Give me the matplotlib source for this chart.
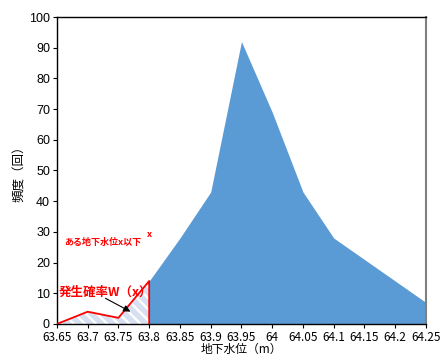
import numpy as np
import matplotlib
matplotlib.use("Agg")
import matplotlib.pyplot as plt

# 地下水位ごとの頻度
levels = ["63.65", "63.7", "63.75", "63.8", "63.85", "63.9", "63.95",
          "64", "64.05", "64.1", "64.15", "64.2", "64.25"]
freq = [0, 4, 2, 14, 28, 43, 92, 69, 43, 28, 21, 14, 7]
split_idx = 3  # 63.8 までが「x以下」

jp = ["Noto Sans CJK JP", "DejaVu Sans"]
plt.rcParams["hatch.color"] = "#d6e0f0"
plt.rcParams["hatch.linewidth"] = 4.0

x = np.arange(len(levels))
y = np.array(freq)

fig = plt.figure(figsize=(4.41, 3.58), dpi=100)
ax = fig.add_axes([0.129, 0.095, 0.837, 0.8575])

# x以下の部分（斜線）
xl, yl = x[:split_idx + 1], y[:split_idx + 1]
ax.fill_between(xl, 0, yl, facecolor="white", hatch="\\\\\\", linewidth=0)
ax.plot(np.r_[xl, xl[-1]], np.r_[yl, 0], color="red", lw=1.3, zorder=3)

# 残りの部分
ax.fill_between(x[split_idx:], 0, y[split_idx:], color="#5b9bd5", linewidth=0)

ax.set_xlim(0, len(levels) - 1)
ax.set_ylim(0, 100)
ax.set_xticks(x)
ax.set_xticklabels(levels, family=jp, fontsize=8.5)
ax.set_yticks(range(0, 101, 10))
ax.set_yticklabels([str(v) for v in range(0, 101, 10)],
                   family="Liberation Sans", fontsize=9)
ax.tick_params(length=3, width=0.8, pad=2)

for s in ["left", "bottom", "top"]:
    ax.spines[s].set_color("black")
    ax.spines[s].set_linewidth(1)
ax.spines["right"].set_color("#808080")
ax.spines["right"].set_linewidth(1.5)

ax.set_ylabel("頻度（回）", family=jp, fontsize=9, labelpad=2)
ax.set_xlabel("地下水位（m）", family=jp, fontsize=8.5, labelpad=-1)

ax.text(0.05, 10.4, "発生確率W（x）", family=jp, fontsize=9, color="red",
        fontweight="bold", va="center", ha="left")
ax.annotate("", xy=(2.47, 3.6), xytext=(1.5, 8.8),
            arrowprops=dict(arrowstyle="-|>", color="black", lw=0.8,
                            mutation_scale=10))
ax.text(0.23, 26.4, "ある地下水位x以下", family=jp, fontsize=6.5,
        color="red", fontweight="bold", va="center", ha="left")
ax.text(3.0, 29.2, "x", family=jp, fontsize=6.5, color="red",
        fontweight="bold", va="center", ha="center")

fig.savefig("out.png", dpi=100)
